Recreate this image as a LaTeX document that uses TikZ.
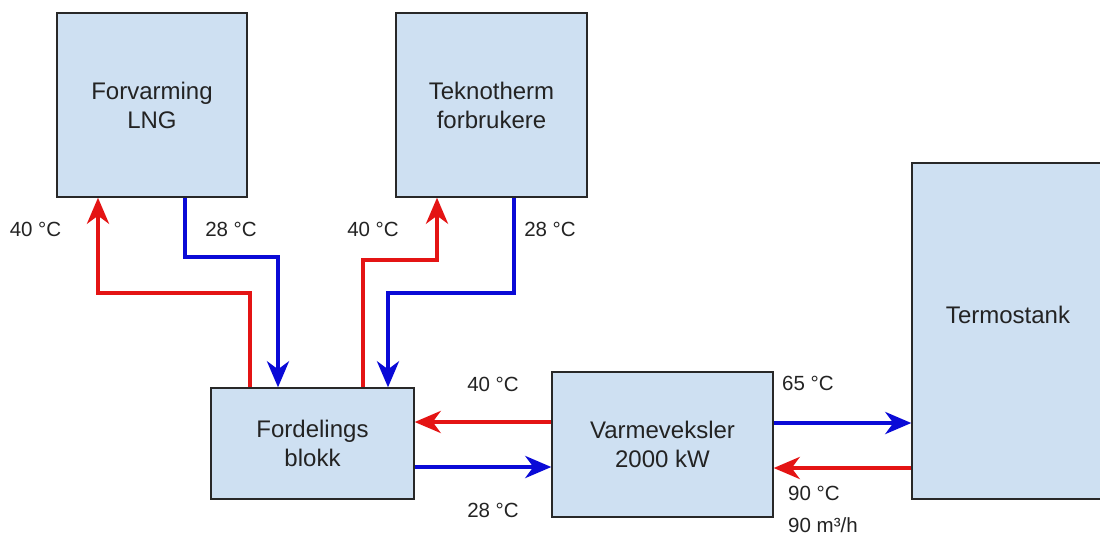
\documentclass[tikz,border=0pt]{standalone}
\usepackage{fontspec}
\setmainfont{Liberation Sans}
\usetikzlibrary{arrows.meta}
\definecolor{boxfill}{RGB}{206,224,242}
\definecolor{boxline}{RGB}{40,40,40}
\definecolor{hotc}{RGB}{228,20,20}
\definecolor{coldc}{RGB}{10,10,215}
\definecolor{txt}{RGB}{35,35,35}
\tikzset{
  unit/.style={draw=boxline, line width=1.4pt, fill=boxfill, align=center, text=txt,
    font=\fontsize{24}{29}\selectfont, inner sep=0pt},
  hot/.style={draw=hotc, line width=4pt, -{Stealth[length=26pt,width=22pt,inset=8pt]}},
  cold/.style={draw=coldc, line width=4pt, -{Stealth[length=26pt,width=22pt,inset=8pt]}},
  lbl/.style={text=txt, font=\fontsize{20.5}{24}\selectfont, inner sep=0pt}
}
\begin{document}
\begin{tikzpicture}[x=1pt,y=-1pt]
\useasboundingbox (0,0) rectangle (1100,536);
\fill[white] (0,0) rectangle (1100,536);
\begin{scope}
\clip (0,0) rectangle (1100,536);
\node[unit, minimum width=190pt, minimum height=184pt] (fl) at (152,105) {Forvarming\\LNG};
\node[unit, minimum width=191pt, minimum height=184pt] (tk) at (491.5,105) {Teknotherm\\forbrukere};
\node[unit, minimum width=203pt, minimum height=111pt] (fb) at (312.5,443.5) {Fordelings\\blokk};
\node[unit, minimum width=221pt, minimum height=145pt] (vv) at (662.5,444.5) {Varmeveksler\\2000 kW};
\node[unit, minimum width=194pt, minimum height=336pt] (ts) at (1009,331) {};
\end{scope}
\node[text=txt, font=\fontsize{24}{29}\selectfont, inner sep=0pt] (tst) at (1008,315) {Termostank};

\coordinate (r1a) at (250,293); \coordinate (r1b) at (98,293);
\draw[hot] (fb.north -| r1a) -- (r1a) -- (r1b) -- (fl.south -| r1b);
\coordinate (b1a) at (185,257); \coordinate (b1b) at (278,257);
\draw[cold] (fl.south -| b1a) -- (b1a) -- (b1b) -- (fb.north -| b1b);
\coordinate (r2a) at (363,260); \coordinate (r2b) at (437,260);
\draw[hot] (fb.north -| r2a) -- (r2a) -- (r2b) -- (tk.south -| r2b);
\coordinate (b2a) at (514,293); \coordinate (b2b) at (388,293);
\draw[cold] (tk.south -| b2a) -- (b2a) -- (b2b) -- (fb.north -| b2b);

\coordinate (h1) at (0,422); \coordinate (h2) at (0,467);
\coordinate (h3) at (0,423); \coordinate (h4) at (0,468);
\draw[hot] (vv.west |- h1) -- (fb.east |- h1);
\draw[cold] (fb.east |- h2) -- (vv.west |- h2);
\draw[cold] (vv.east |- h3) -- (ts.west |- h3);
\draw[hot] (ts.west |- h4) -- (vv.east |- h4);

\node[lbl] (l1) at (35.5,229) {40 °C};
\node[lbl] (l2) at (231,229) {28 °C};
\node[lbl] (l3) at (373,229) {40 °C};
\node[lbl] (l4) at (550,229) {28 °C};
\node[lbl] (l5) at (493,384) {40 °C};
\node[lbl] (l6) at (493,510) {28 °C};
\node[lbl, anchor=west] (l7) at (782,383) {65 °C};
\node[lbl, anchor=west] (l8) at (788,493) {90 °C};
\node[lbl, anchor=west] (l9) at (788,525) {90 m³/h};
\end{tikzpicture}
\end{document}
